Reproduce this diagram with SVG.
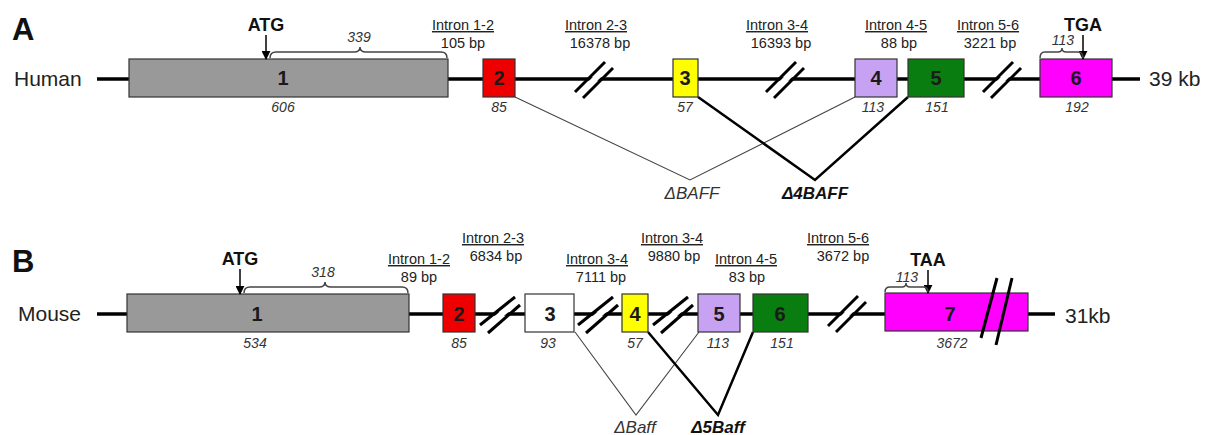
<svg xmlns="http://www.w3.org/2000/svg" width="1215" height="435" viewBox="0 0 1215 435">
<defs>
<marker id="ah" viewBox="0 0 10 10" refX="9" refY="5" markerWidth="9" markerHeight="9" markerUnits="userSpaceOnUse" orient="auto"><path d="M0,0 L10,5 L0,10 Z" fill="#000"/></marker>
<g id="brk"><line x1="-15" y1="15" x2="15" y2="-15" stroke="#fff" stroke-width="6"/><line x1="-19" y1="12" x2="11" y2="-18" class="sl"/><line x1="-11" y1="18" x2="19" y2="-12" class="sl"/></g>
<g id="brk2"><line x1="-16" y1="14" x2="17" y2="-14" stroke="#fff" stroke-width="6"/><line x1="-20" y1="10" x2="15" y2="-18" class="sl"/><line x1="-12" y1="18" x2="20" y2="-10" class="sl"/></g>
</defs>
<style>
text{font-family:"Liberation Sans",Arial,sans-serif;fill:#222}
.pl{font-size:31px;font-weight:bold;fill:#111}
.sp{font-size:21px}
.lab{font-size:14.5px;text-anchor:middle}
.ul{text-decoration:underline}
.num{font-size:14px;font-style:italic;text-anchor:middle;fill:#333}
.ex{font-size:20px;font-weight:bold;text-anchor:middle;fill:#1a1a1a}
.cod{font-size:18px;font-weight:bold;text-anchor:middle;fill:#111}
.iso{font-size:17px;font-style:italic;text-anchor:middle;fill:#333}
.isob{font-size:17px;font-style:italic;font-weight:bold;text-anchor:middle;fill:#111}
.ln{stroke:#000;stroke-width:3.5}
.box{stroke:#333;stroke-width:1.2}
.sl{stroke:#000;stroke-width:3}
.br{fill:none;stroke:#444;stroke-width:1.5}
.arr{stroke:#000;stroke-width:1.5;marker-end:url(#ah)}
.thin{fill:none;stroke:#444;stroke-width:1.1}
.thick{fill:none;stroke:#000;stroke-width:2.5}
</style>

<!-- Panel A: Human -->
<text class="pl" x="12" y="40">A</text>
<text class="sp" x="14" y="86">Human</text>
<g id="connectors">
<line class="ln" x1="97" y1="79" x2="1140" y2="79"/>
<line class="ln" x1="97" y1="314" x2="1055" y2="314"/>
<use href="#brk" x="594" y="80"/>
<use href="#brk" x="785" y="80"/>
<use href="#brk" x="1002" y="80"/>
<use href="#brk2" x="500" y="315"/>
<use href="#brk2" x="598" y="315"/>
<use href="#brk2" x="673" y="315"/>
<use href="#brk" x="847" y="314"/>
<polyline class="thin" points="515,97 690,180 855,97"/>
<polyline class="thick" points="698,97 815,180 908,97"/>
<polyline class="thin" points="575,332 636,415 699,332"/>
<polyline class="thick" points="648,332 718,415 753,332"/>
</g>

<g id="h-e1"><rect class="box" x="129" y="59" width="319" height="38" fill="#999"/><text class="ex" x="283" y="85">1</text><text class="num" x="283" y="112">606</text></g>
<g id="h-atg"><text class="cod" x="266" y="31">ATG</text><line class="arr" x1="266" y1="35" x2="266" y2="59"/></g>
<g id="h-339"><path class="br" d="M270,58 Q270,52 276,52 L354,52 Q360,52 360,47 Q360,52 366,52 L441,52 Q447,52 447,58"/><text class="num" x="359" y="42">339</text></g>
<g id="h-e2"><rect class="box" x="483" y="59" width="32" height="38" fill="#ee0000"/><text class="ex" x="499" y="85">2</text><text class="num" x="499" y="112">85</text></g>
<g id="h-e3"><rect class="box" x="673" y="59" width="25" height="38" fill="#ffff00"/><text class="ex" x="685" y="85">3</text><text class="num" x="685" y="112">57</text></g>
<g id="h-e4"><rect class="box" x="855" y="59" width="42" height="38" fill="#c8a2f2"/><text class="ex" x="876" y="85">4</text><text class="num" x="873" y="112">113</text></g>
<g id="h-e5"><rect class="box" x="908" y="59" width="56" height="38" fill="#0a7d10"/><text class="ex" x="936" y="85">5</text><text class="num" x="937" y="112">151</text></g>
<g id="h-e6"><rect class="box" x="1040" y="59" width="72" height="38" fill="#ff00ff"/><text class="ex" x="1076" y="85">6</text><text class="num" x="1077" y="112">192</text></g>
<g id="h-tga"><text class="cod" x="1083" y="31">TGA</text><line class="arr" x1="1083" y1="35" x2="1083" y2="59"/><path class="br" d="M1040,58 Q1040,52 1045,52 L1058,52 Q1062,52 1062,48 Q1062,52 1066,52 L1078,52 Q1083,52 1083,58"/><text class="num" x="1063" y="45">113</text></g>
<text class="sp" x="1149" y="86">39 kb</text>

<g id="h-introns">
<text class="lab ul" x="463" y="30">Intron 1-2</text><text class="lab" x="463" y="48">105 bp</text>
<text class="lab ul" x="596" y="30">Intron 2-3</text><text class="lab" x="600" y="48">16378 bp</text>
<text class="lab ul" x="777" y="30">Intron 3-4</text><text class="lab" x="781" y="48">16393 bp</text>
<text class="lab ul" x="896" y="30">Intron 4-5</text><text class="lab" x="899" y="48">88 bp</text>
<text class="lab ul" x="988" y="30">Intron 5-6</text><text class="lab" x="990" y="48">3221 bp</text>
</g>
<g id="h-iso"><text class="iso" x="692" y="199">ΔBAFF</text><text class="isob" x="815" y="199">Δ4BAFF</text></g>

<!-- Panel B: Mouse -->
<text class="pl" x="12" y="272">B</text>
<text class="sp" x="18" y="321">Mouse</text>
<g id="m-e1"><rect class="box" x="127" y="294" width="282" height="38" fill="#999"/><text class="ex" x="257" y="321">1</text><text class="num" x="255" y="348">534</text></g>
<g id="m-atg"><text class="cod" x="240" y="265">ATG</text><line class="arr" x1="240" y1="269" x2="240" y2="294"/></g>
<g id="m-318"><path class="br" d="M244,293 Q244,287 250,287 L319,287 Q325,287 325,282 Q325,287 331,287 L402,287 Q408,287 408,293"/><text class="num" x="323" y="277">318</text></g>
<g id="m-e2"><rect class="box" x="443" y="294" width="32" height="38" fill="#ee0000"/><text class="ex" x="459" y="321">2</text><text class="num" x="459" y="348">85</text></g>
<g id="m-e3"><rect class="box" x="525" y="294" width="49" height="38" fill="#fff"/><text class="ex" x="550" y="321">3</text><text class="num" x="548" y="348">93</text></g>
<g id="m-e4"><rect class="box" x="622" y="294" width="26" height="38" fill="#ffff00"/><text class="ex" x="635" y="321">4</text><text class="num" x="635" y="348">57</text></g>
<g id="m-e5"><rect class="box" x="698" y="294" width="42" height="38" fill="#c8a2f2"/><text class="ex" x="719" y="321">5</text><text class="num" x="718" y="348">113</text></g>
<g id="m-e6"><rect class="box" x="753" y="294" width="55" height="38" fill="#0a7d10"/><text class="ex" x="780" y="321">6</text><text class="num" x="782" y="348">151</text></g>
<g id="m-e7"><rect class="box" x="885" y="293" width="143" height="38" fill="#ff00ff"/><text class="ex" x="950" y="321">7</text><text class="num" x="952" y="348">3672</text><line class="sl" x1="997" y1="278" x2="981" y2="338"/><line class="sl" x1="1012" y1="278" x2="996" y2="345"/></g>
<g id="m-taa"><text class="cod" x="928" y="266">TAA</text><line class="arr" x1="928" y1="270" x2="928" y2="293"/><path class="br" d="M885,292 Q885,287 890,287 L902,287 Q906,287 906,283 Q906,287 910,287 L923,287 Q928,287 928,292"/><text class="num" x="907" y="282">113</text></g>
<text class="sp" x="1065" y="323">31kb</text>

<g id="m-introns">
<text class="lab ul" x="419" y="264">Intron 1-2</text><text class="lab" x="419" y="282">89 bp</text>
<text class="lab ul" x="493" y="243">Intron 2-3</text><text class="lab" x="496" y="261">6834 bp</text>
<text class="lab ul" x="597" y="264">Intron 3-4</text><text class="lab" x="601" y="282">7111 bp</text>
<text class="lab ul" x="672" y="243">Intron 3-4</text><text class="lab" x="674" y="261">9880 bp</text>
<text class="lab ul" x="746" y="264">Intron 4-5</text><text class="lab" x="747" y="282">83 bp</text>
<text class="lab ul" x="838" y="243">Intron 5-6</text><text class="lab" x="843" y="261">3672 bp</text>
</g>
<g id="m-iso"><text class="iso" x="635" y="433">ΔBaff</text><text class="isob" x="718" y="433">Δ5Baff</text></g>
</svg>
